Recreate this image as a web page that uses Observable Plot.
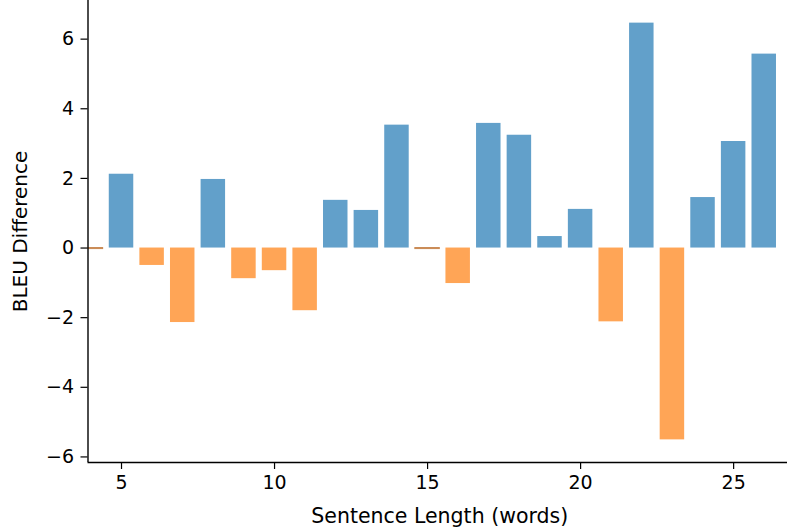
<!DOCTYPE html>
<html>
<head>
<meta charset="utf-8">
<script src="https://cdn.jsdelivr.net/npm/d3@7"></script>
<script src="https://cdn.jsdelivr.net/npm/@observablehq/plot@0.6"></script>
<style>
  html, body { margin: 0; padding: 0; background: #fff; }
</style>
</head>
<body>
<div id="chart"></div>
<script>
const lengths = [4, 5, 6, 7, 8, 9, 10, 11, 12, 13, 14, 15, 16, 17, 18, 19, 20, 21, 22, 23, 24, 25, 26];
const diffs = [-0.03, 2.12, -0.50, -2.14, 1.97, -0.88, -0.65, -1.80, 1.37, 1.08, 3.53, -0.03, -1.02, 3.58, 3.24, 0.33, 1.11, -2.12, 6.46, -5.51, 1.45, 3.06, 5.57];
const yTicks = [-6, -4, -2, 0, 2, 4, 6];
const xTicks = [5, 10, 15, 20, 25];
const xLabel = "Sentence Length (words)";
const yLabel = "BLEU Difference";

const data = lengths.map((len, i) => ({len, diff: diffs[i]}));
const posColor = "#62a0ca";
const negColor = "#ffa556";
const xDomain = [3.905, 26.76];
const yDomain = [-6.16, 7.11];

const chart = Plot.plot({
  width: 787,
  height: 529,
  marginLeft: 87.5,
  marginRight: 0,
  marginTop: 0,
  marginBottom: 67,
  style: {fontFamily: "DejaVu Sans", fontSize: "19px", color: "#000", background: "#fff"},
  x: {domain: xDomain},
  y: {domain: yDomain},
  marks: [
    Plot.rect(data, {
      x1: d => d.len - 0.4,
      x2: d => d.len + 0.4,
      y1: () => 0,
      y2: "diff",
      fill: d => d.diff >= 0 ? posColor : negColor,
      stroke: d => d.diff >= 0 ? posColor : "#c98a55",
      strokeWidth: d => Math.abs(d.diff) < 0.1 ? 1 : 0,
      clip: true
    }),
    Plot.axisY({ticks: yTicks, tickFormat: d3.format("d"), tickSize: 7, tickPadding: 7, label: null, fontSize: 19, strokeWidth: 1.2}),
    Plot.axisX({ticks: xTicks, tickFormat: d3.format("d"), tickSize: 7, tickPadding: 6, label: null, fontSize: 19, strokeWidth: 1.2}),
    Plot.ruleX([xDomain[0]], {stroke: "#000", strokeWidth: 1.4}),
    Plot.ruleY([yDomain[0]], {stroke: "#000", strokeWidth: 1.4}),
    Plot.text([yLabel], {frameAnchor: "left", textAnchor: "middle", lineAnchor: "middle", rotate: -90, dx: -67.5, dy: 0, fontSize: 20, fill: "#000"}),
    Plot.text([xLabel], {frameAnchor: "bottom", textAnchor: "middle", lineAnchor: "middle", dy: 54, dx: 2, fontSize: 20.5, fill: "#000"})
  ]
});
document.getElementById("chart").appendChild(chart);
</script>
</body>
</html>
